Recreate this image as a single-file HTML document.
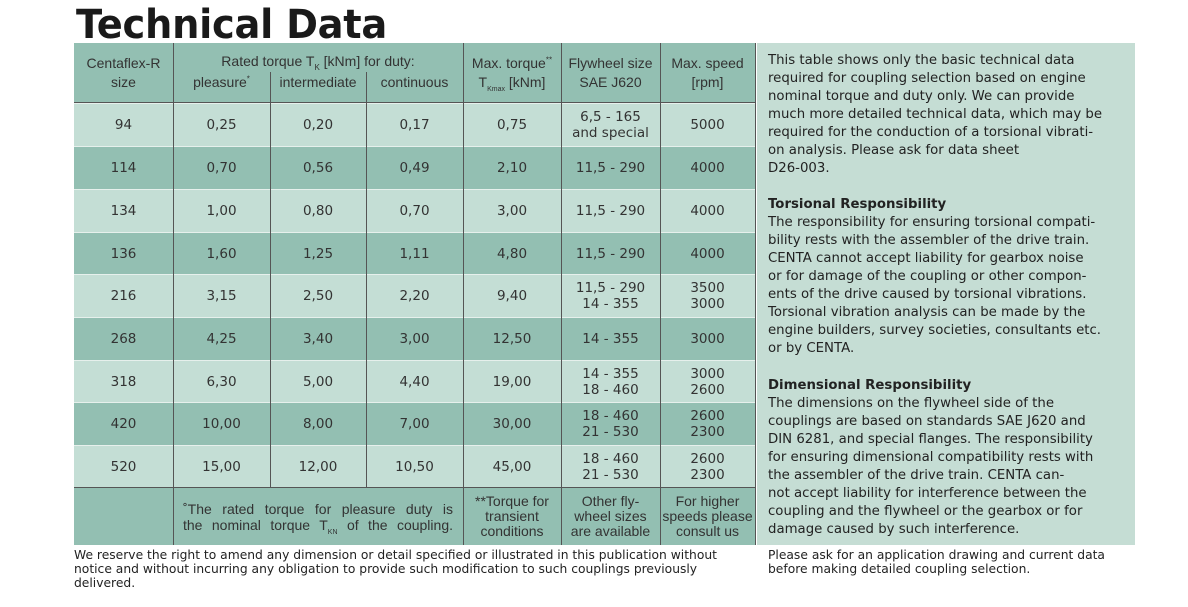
<!DOCTYPE html>
<html><head><meta charset="utf-8"><style>
body{margin:0;width:1188px;height:607px;background:#fff;position:relative;overflow:hidden;font-family:"DejaVu Sans","Liberation Sans",sans-serif;color:#222}
.t{position:absolute;left:76px;top:2px;font:bold 40px "DejaVu Sans",sans-serif;letter-spacing:-0.3px;color:#1a1a1a;transform:scaleX(0.96);transform-origin:left}
.r{position:absolute;left:74px;width:681px}
.c{position:absolute;top:0;bottom:0;display:flex;align-items:center;justify-content:center;text-align:center;font-size:13.5px;line-height:16px;color:#333}
.c>div{display:block}
.vl{position:absolute;width:1px;background:#555}
.side{position:absolute;left:757px;top:43px;width:378px;height:502px;background:#c5ddd4}
.side p{margin:0;position:absolute;left:11px;font-size:13.3px;line-height:18px;color:#222;white-space:pre}
.h{font-family:"Liberation Sans",sans-serif;font-size:14px}
.foot{position:absolute;font-size:12.3px;line-height:14px;color:#222;white-space:pre}
sub,sup{line-height:0}
</style></head><body>
<div class="t">Technical Data</div>

<div class="r" style="top:43px;height:60px;background:#93bfb2"></div>
<div class="r" style="top:488px;height:57px;background:#93bfb2"></div>
<div id="rows"></div>

<div class="side">
<p style="top:9px">This table shows only the basic technical data
required for coupling selection based on engine
nominal torque and duty only. We can provide
much more detailed technical data, which may be
required for the conduction of a torsional vibrati-
on analysis. Please ask for data sheet
D26-003.</p>
<p style="top:153px"><b>Torsional Responsibility</b>
The responsibility for ensuring torsional compati-
bility rests with the assembler of the drive train.
CENTA cannot accept liability for gearbox noise
or for damage of the coupling or other compon-
ents of the drive caused by torsional vibrations.
Torsional vibration analysis can be made by the
engine builders, survey societies, consultants etc.
or by CENTA.</p>
<p style="top:334px"><b>Dimensional Responsibility</b>
The dimensions on the flywheel side of the
couplings are based on standards SAE J620 and
DIN 6281, and special flanges. The responsibility
for ensuring dimensional compatibility rests with
the assembler of the drive train. CENTA can-
not accept liability for interference between the
coupling and the flywheel or the gearbox or for
damage caused by such interference.</p>
</div>

<div class="foot" style="left:74px;top:548px">We reserve the right to amend any dimension or detail specified or illustrated in this publication without
notice and without incurring any obligation to provide such modification to such couplings previously
delivered.</div>
<div class="foot" style="left:768px;top:548px">Please ask for an application drawing and current data
before making detailed coupling selection.</div>

<script>
var X=[74,173,270,366,463,561,660,755];
var data=[
["94","0,25","0,20","0,17","0,75","6,5 - 165<br>and special","5000"],
["114","0,70","0,56","0,49","2,10","11,5 - 290","4000"],
["134","1,00","0,80","0,70","3,00","11,5 - 290","4000"],
["136","1,60","1,25","1,11","4,80","11,5 - 290","4000"],
["216","3,15","2,50","2,20","9,40","11,5 - 290<br>14 - 355","3500<br>3000"],
["268","4,25","3,40","3,00","12,50","14 - 355","3000"],
["318","6,30","5,00","4,40","19,00","14 - 355<br>18 - 460","3000<br>2600"],
["420","10,00","8,00","7,00","30,00","18 - 460<br>21 - 530","2600<br>2300"],
["520","15,00","12,00","10,50","45,00","18 - 460<br>21 - 530","2600<br>2300"]];
var tops=[103,146,189,232,274,317,360,402,445,488];
var h="";
for(var i=0;i<9;i++){
 var y=tops[i],hh=tops[i+1]-y;
 h+='<div class="r" style="top:'+y+'px;height:'+hh+'px;background:'+(i%2?'#93bfb2':'#c4ded5')+';border-top:1px solid #e6f0ec;box-sizing:border-box">';
 for(var j=0;j<7;j++)h+='<div class="c" style="left:'+(X[j]-74)+'px;width:'+(X[j+1]-X[j])+'px"><div>'+data[i][j]+'</div></div>';
 h+='</div>';
}
function c(x1,x2,y,hh,t,ex){h+='<div class="c h" style="left:'+x1+'px;width:'+(x2-x1)+'px;top:'+y+'px;bottom:auto;height:'+hh+'px;'+(ex||'')+'"><div>'+t+'</div></div>';}
c(74,173,43,60,'Centaflex-R<br>size','line-height:19px');
c(173,463,50,22,'Rated torque T<sub style="font-size:8px">K</sub> [kNm] for duty:');
c(173,270,72,20,'pleasure<sup style="font-size:8px">*</sup>');
c(270,366,72,20,'intermediate');
c(366,463,72,20,'continuous');
c(463,561,43,60,'Max. torque<sup style="font-size:8px">**</sup><br>T<sub style="font-size:7px">Kmax</sub> [kNm]','line-height:19px');
c(561,660,43,60,'Flywheel size<br>SAE J620','line-height:19px');
c(660,755,43,60,'Max. speed<br>[rpm]','line-height:19px');
c(173,463,488,57,'<span style="text-align:justify;text-align-last:justify;width:270px;display:block">˚The rated torque for pleasure duty is<br>the nominal torque T<sub style="font-size:7px">KN</sub> of the coupling.</span>','line-height:16px');
c(463,561,488,57,'**Torque for<br>transient<br>conditions','line-height:15px');
c(561,660,488,57,'Other fly-<br>wheel sizes<br>are available','line-height:15px');
c(660,755,488,57,'For higher<br>speeds please<br>consult us','line-height:15px');
var vx=[173,463,561,660,755];
vx.forEach(function(x){h+='<div class="vl" style="left:'+x+'px;top:43px;height:502px"></div>';});
h+='<div class="vl" style="left:270px;top:72px;height:416px"></div>';
h+='<div class="vl" style="left:366px;top:72px;height:416px"></div>';
h+='<div style="position:absolute;left:74px;top:102px;width:681px;height:1px;background:#555"></div>';
h+='<div style="position:absolute;left:74px;top:487px;width:681px;height:1px;background:#555"></div>';
document.getElementById('rows').outerHTML=h;
</script>
</body></html>
